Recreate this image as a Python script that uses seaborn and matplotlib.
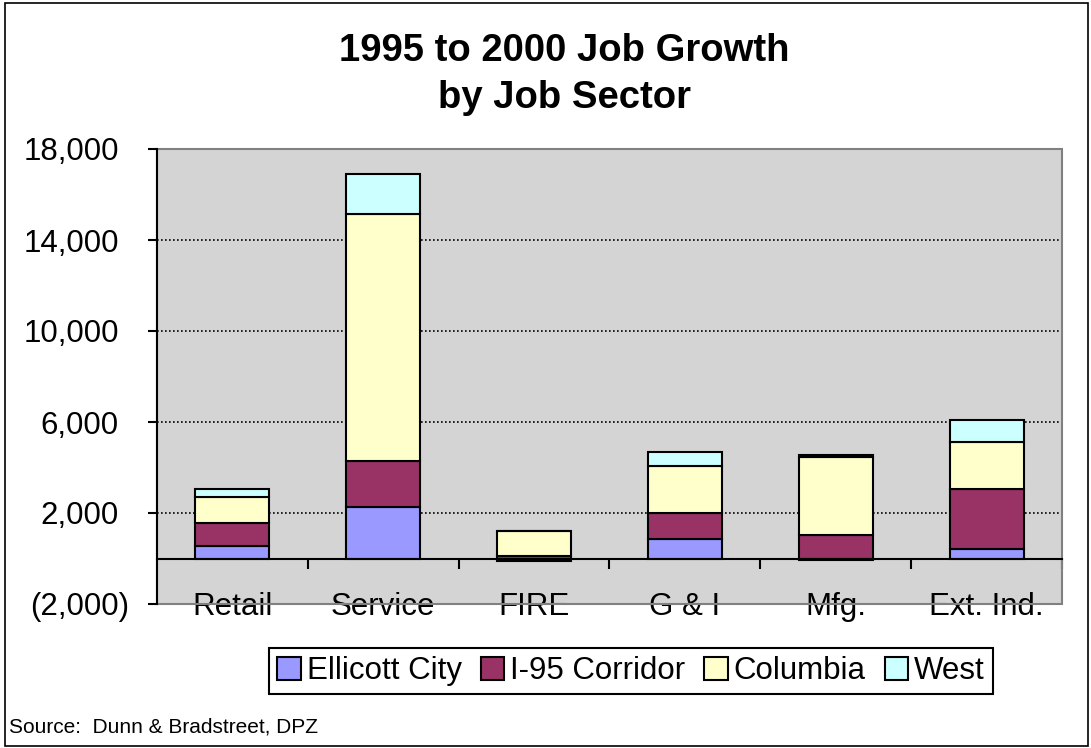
import numpy as np
import pandas as pd
import matplotlib
matplotlib.use("Agg")
import matplotlib.pyplot as plt
import matplotlib.transforms as mtransforms
from matplotlib.patches import Rectangle, Patch
import seaborn as sns

# Job growth 1995-2000 by sector, split by region
sectors = ["Retail", "Service", "FIRE", "G & I", "Mfg.", "Ext. Ind."]
ellicott_city = [570, 2250, -100, 870, -70, 430]
i95_corridor = [990, 2030, 120, 1130, 1050, 2640]
columbia = [1140, 10850, 1080, 2060, 3430, 2030]
west = [360, 1780, 0, 620, 50, 990]

region_names = ["Ellicott City", "I-95 Corridor", "Columbia", "West"]
region_colors = ["#9999FF", "#993366", "#FFFFCC", "#CCFFFF"]

y_ticks = [-2000, 2000, 6000, 10000, 14000, 18000]
y_tick_labels = ["(2,000)", "2,000", "6,000", "10,000", "14,000", "18,000"]
grid_levels = [2000, 6000, 10000, 14000]

sns.set_style("white")
plt.rcParams["font.family"] = ["Liberation Sans", "DejaVu Sans"]
plt.rcParams["text.color"] = "black"
plt.rcParams["xtick.color"] = "black"
plt.rcParams["ytick.color"] = "black"
plt.rcParams["xtick.labelcolor"] = "black"
plt.rcParams["ytick.labelcolor"] = "black"
plt.rcParams["axes.labelcolor"] = "black"

W, H = 1091, 748
fig = plt.figure(figsize=(W / 100, H / 100), dpi=100)
ax = fig.add_axes([157 / W, 1 - 604 / H, (1062 - 157) / W, (604 - 149) / H])
ax.set_facecolor("#D4D4D4")

# stacked bars: positives stack upward from zero, negatives downward
pos_base = np.zeros(len(sectors))
neg_base = np.zeros(len(sectors))
for name, values, color in zip(region_names,
                               [ellicott_city, i95_corridor, columbia, west],
                               region_colors):
    v = np.asarray(values, dtype=float)
    bottom = np.where(v >= 0, pos_base, neg_base)
    layer = pd.DataFrame({"sector": sectors, "value": v})
    sns.barplot(data=layer, x="sector", y="value", order=sectors,
                bottom=bottom, color=color, saturation=1,
                edgecolor="black", linewidth=1.5, width=0.49,
                errorbar=None, ax=ax, zorder=3)
    pos_base += np.where(v > 0, v, 0)
    neg_base += np.where(v < 0, v, 0)

ax.set_xlabel("")
ax.set_ylabel("")
ax.set_xlim(-0.5, len(sectors) - 0.5)
ax.set_ylim(-2000, 18000)

# dotted gridlines
for g in grid_levels:
    ax.axhline(g, color="black", lw=1.2, ls=(0, (1, 1.4)), zorder=1)

# plot-area border
ax.add_patch(Rectangle((0, 0), 1, 1, transform=ax.transAxes, fill=False,
                       edgecolor="#808080", lw=1.5, clip_on=False, zorder=2))
ax.spines["top"].set_visible(False)
ax.spines["right"].set_visible(False)
ax.spines["left"].set_color("black")
ax.spines["left"].set_linewidth(1.5)
ax.spines["left"].set_zorder(5)
ax.spines["bottom"].set_position(("data", 0))
ax.spines["bottom"].set_color("black")
ax.spines["bottom"].set_linewidth(1.5)
ax.spines["bottom"].set_zorder(5)

# y axis
ax.set_yticks(y_ticks)
ax.set_yticklabels(y_tick_labels)
ax.tick_params(axis="y", direction="out", length=6.5, width=1.5,
               color="black", labelcolor="black", pad=21, labelsize=22.5,
               left=True)
shift = mtransforms.ScaledTranslation(0.10, 0, fig.dpi_scale_trans)
for lbl in ax.get_yticklabels():
    if lbl.get_text().startswith("("):
        lbl.set_transform(lbl.get_transform() + shift)

# x axis: labels at sector centres, ticks at sector boundaries
ax.set_xticks(range(len(sectors)))
ax.set_xticklabels(sectors)
ax.set_xticks(np.arange(0.5, len(sectors), 1.0), minor=True)
ax.tick_params(axis="x", which="major", length=0, pad=24, labelsize=22.5,
               labelcolor="black", bottom=True)
ax.tick_params(axis="x", which="minor", direction="out", length=7.2,
               width=1.5, color="black", bottom=True)

fig.text(564 / W, 1 - 33 / H, "1995 to 2000 Job Growth\nby Job Sector",
         ha="center", va="top", fontsize=27.5, fontweight="bold",
         linespacing=1.4, color="black")

handles = [Patch(facecolor=c, edgecolor="black", lw=1.5) for c in region_colors]
leg = fig.legend(handles, region_names, loc="center",
                 bbox_to_anchor=(631 / W, 1 - 671 / H), ncol=4, frameon=True,
                 fancybox=False, edgecolor="black", framealpha=1,
                 fontsize=22.5, handlelength=0.75, handleheight=0.75,
                 handletextpad=0.2, columnspacing=0.6, borderpad=0.25,
                 borderaxespad=0)
leg.get_frame().set_linewidth(1.5)
for t in leg.get_texts():
    t.set_color("black")

fig.text(9 / W, 1 - 727 / H, "Source:  Dunn & Bradstreet, DPZ",
         fontsize=15, va="center", ha="left", color="black")

fig.add_artist(Rectangle((5 / W, 2 / H), (1088 - 5) / W, (745 - 2) / H,
                         transform=fig.transFigure, fill=False,
                         edgecolor="black", lw=1.2))

fig.savefig("out.png", dpi=100)
